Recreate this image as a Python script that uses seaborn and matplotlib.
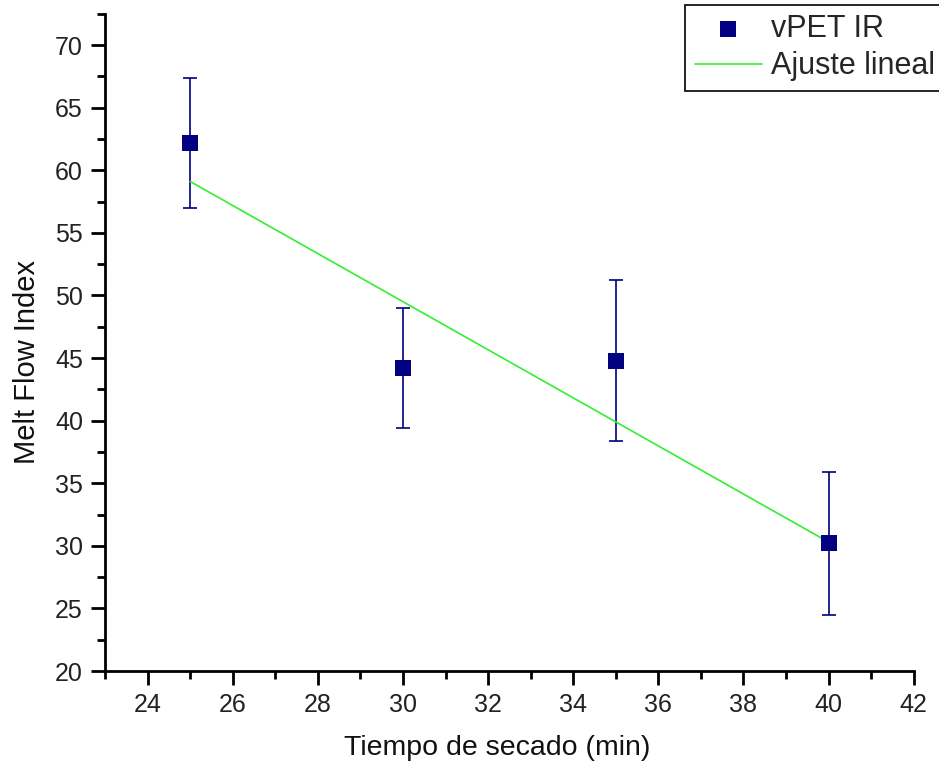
import matplotlib
matplotlib.use("Agg")
import matplotlib.pyplot as plt
import seaborn as sns
import pandas as pd
from matplotlib.ticker import MultipleLocator

# Data
tiempo = [25, 30, 35, 40]
mfi = [62.2, 44.2, 44.8, 30.2]
mfi_err = [5.2, 4.8, 6.4, 5.7]
fit_x = [25, 40]
fit_y = [59.1, 30.3]

sns.set_theme(style="ticks")
plt.rcParams['font.family'] = ['Liberation Sans', 'DejaVu Sans']

df = pd.DataFrame({"x": tiempo, "y": mfi, "err": mfi_err})
df_fit = pd.DataFrame({"x": fit_x, "y": fit_y})

fig = plt.figure(figsize=(9.39, 7.66), dpi=100)
ax = fig.add_axes([0.112, 0.124, 0.861, 0.858])

navy = "#000080"
green = "#33ee33"

ax.errorbar(df["x"], df["y"], yerr=df["err"], fmt="none", ecolor=navy,
            elinewidth=1.2, capsize=5, capthick=1.2, zorder=2)
sns.lineplot(data=df_fit, x="x", y="y", ax=ax, color=green, linewidth=1.2,
             label="Ajuste lineal", zorder=3)
sns.scatterplot(data=df, x="x", y="y", ax=ax, marker="s", s=120, color=navy,
                edgecolor=navy, linewidth=0, label="vPET IR", zorder=4)

ax.set_xlim(23, 42)
ax.set_ylim(20, 72.5)
ax.xaxis.set_major_locator(MultipleLocator(2))
ax.xaxis.set_minor_locator(MultipleLocator(1))
ax.yaxis.set_major_locator(MultipleLocator(5))
ax.yaxis.set_minor_locator(MultipleLocator(2.5))

for s in ["top", "right"]:
    ax.spines[s].set_visible(False)
for s in ["left", "bottom"]:
    ax.spines[s].set_linewidth(2)
    ax.spines[s].set_color("black")

ax.tick_params(axis="both", which="major", direction="out", length=10, width=2,
               labelsize=18, labelcolor="#222222", color="black", pad=6)
ax.tick_params(axis="both", which="minor", direction="out", length=6, width=2,
               color="black")

ax.set_xlabel("Tiempo de secado (min)", fontsize=20.5, color="#111111")
ax.set_ylabel("Melt Flow Index", fontsize=21, color="#111111")
ax.xaxis.set_label_coords(0.485, -0.097)
ax.yaxis.set_label_coords(-0.079, 0.47)

handles, labels = ax.get_legend_handles_labels()
order = [labels.index("vPET IR"), labels.index("Ajuste lineal")]
leg = ax.legend([handles[i] for i in order], [labels[i] for i in order],
                loc="upper left", bbox_to_anchor=(0.730, 0.994),
                bbox_transform=fig.transFigure, fontsize=22,
                frameon=True, fancybox=False, edgecolor="black", framealpha=1,
                borderpad=0.3, handlelength=2.2, handletextpad=0.3,
                labelspacing=0.25, borderaxespad=0.0)
leg.get_frame().set_linewidth(1.2)

fig.savefig("out.png", dpi=100)
